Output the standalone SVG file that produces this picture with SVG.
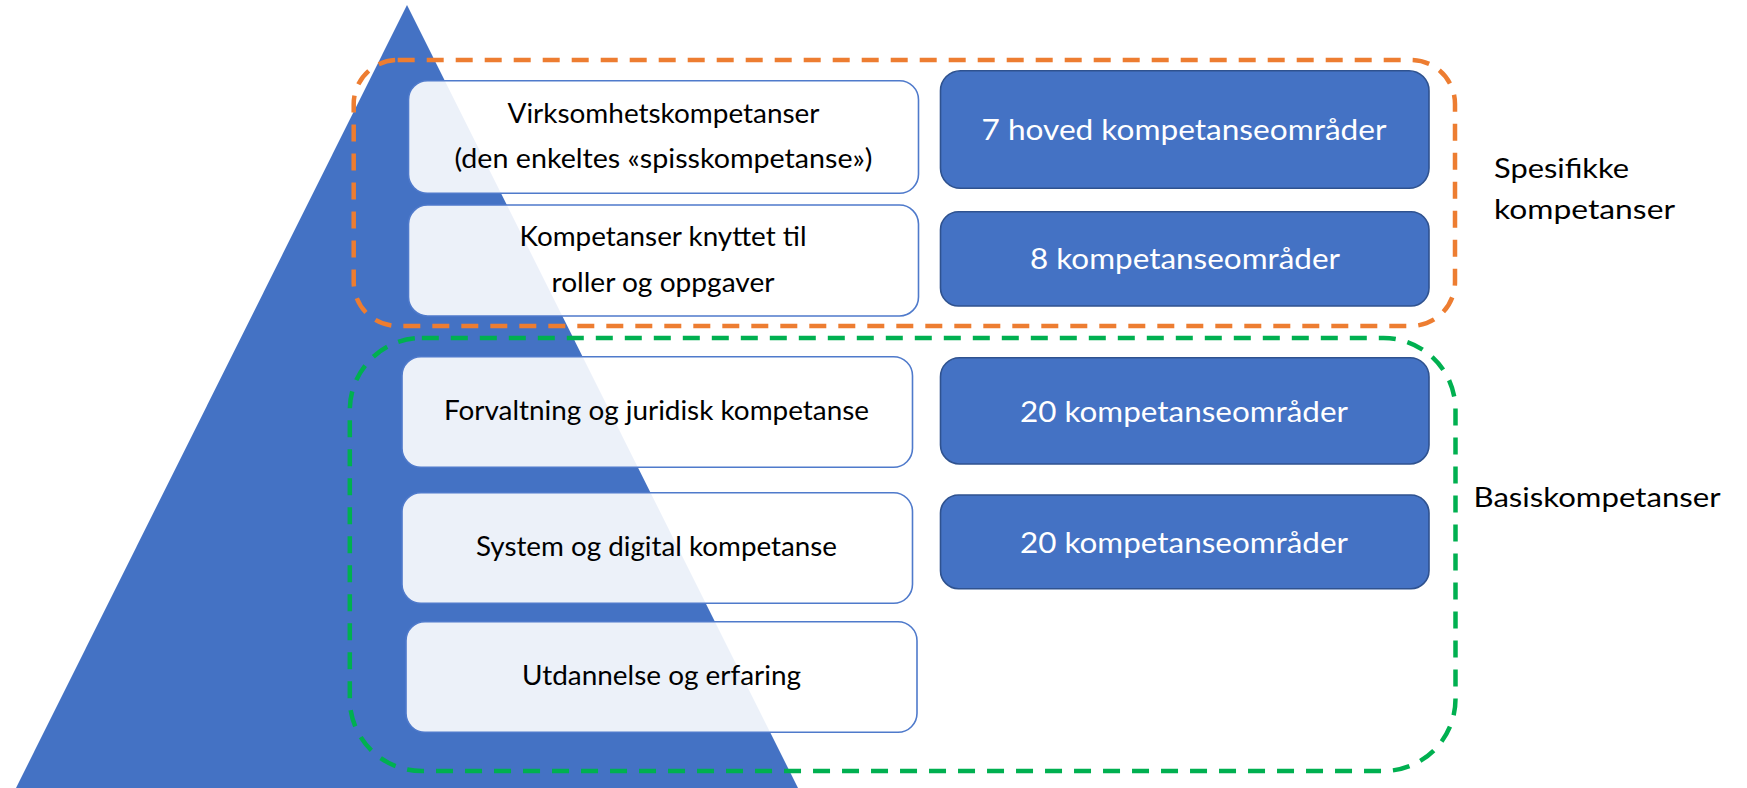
<svg xmlns="http://www.w3.org/2000/svg" width="1747" height="788" viewBox="0 0 1747 788">
<style>
.bg{fill:#ffffff}
.tri{fill:#4472C4}
.wbox{fill:#ffffff;fill-opacity:0.9;stroke:#4F7ACB;stroke-width:1.6}
.dbox{fill:#4472C4;stroke:#2F528F;stroke-width:1.6}
.wt{font-family:Lato,"Liberation Sans",sans-serif;font-size:27px;fill:#000000;text-anchor:middle}
.dt{font-family:Lato,"Liberation Sans",sans-serif;font-size:29px;fill:#ffffff;text-anchor:middle}
.lt{font-family:Lato,"Liberation Sans",sans-serif;font-size:27px;fill:#000000}
.org{fill:none;stroke:#ED7D31;stroke-width:4.5;stroke-dasharray:17 12}
.grn{fill:none;stroke:#00B050;stroke-width:4.5;stroke-dasharray:17 12}
</style>
<rect class="bg" x="0" y="0" width="1747" height="788"/>
<g id="pyramid">
<polygon class="tri" points="407,5 798,788 16,788"/>
</g>
<g id="box-virksomhet">
<rect class="wbox" x="408.5" y="80.7" width="510" height="112.6" rx="19"/>
<text class="wt" x="663.5" y="122.7" textLength="312" lengthAdjust="spacingAndGlyphs">Virksomhetskompetanser</text>
<text class="wt" x="663.5" y="168" textLength="418" lengthAdjust="spacingAndGlyphs">(den enkeltes «spisskompetanse»)</text>
</g>
<g id="box-roller">
<rect class="wbox" x="408.5" y="205" width="510" height="111" rx="19"/>
<text class="wt" x="663" y="246" textLength="287" lengthAdjust="spacingAndGlyphs">Kompetanser knyttet til</text>
<text class="wt" x="663" y="291.7" textLength="223" lengthAdjust="spacingAndGlyphs">roller og oppgaver</text>
</g>
<g id="box-forvaltning">
<rect class="wbox" x="402" y="356.7" width="510.5" height="110.6" rx="19"/>
<text class="wt" x="656.5" y="420" textLength="425" lengthAdjust="spacingAndGlyphs">Forvaltning og juridisk kompetanse</text>
</g>
<g id="box-system">
<rect class="wbox" x="402" y="492.7" width="510.5" height="110.6" rx="19"/>
<text class="wt" x="656.5" y="556" textLength="361" lengthAdjust="spacingAndGlyphs">System og digital kompetanse</text>
</g>
<g id="box-utdannelse">
<rect class="wbox" x="406" y="621.7" width="511" height="110.6" rx="19"/>
<text class="wt" x="661.5" y="685" textLength="279" lengthAdjust="spacingAndGlyphs">Utdannelse og erfaring</text>
</g>
<g id="count-7">
<rect class="dbox" x="940.5" y="70.7" width="488.5" height="117.6" rx="20"/>
<text class="dt" x="1184" y="140" textLength="405" lengthAdjust="spacingAndGlyphs">7 hoved kompetanseområder</text>
</g>
<g id="count-8">
<rect class="dbox" x="940.5" y="211.7" width="488.5" height="94.3" rx="18"/>
<text class="dt" x="1185" y="269" textLength="310" lengthAdjust="spacingAndGlyphs">8 kompetanseområder</text>
</g>
<g id="count-20a">
<rect class="dbox" x="940.5" y="357.7" width="488.5" height="106.3" rx="19"/>
<text class="dt" x="1184" y="421.7" textLength="328" lengthAdjust="spacingAndGlyphs">20 kompetanseområder</text>
</g>
<g id="count-20b">
<rect class="dbox" x="940.5" y="495" width="488.5" height="93.7" rx="18"/>
<text class="dt" x="1184" y="553.3" textLength="328" lengthAdjust="spacingAndGlyphs">20 kompetanseområder</text>
</g>
<g id="group-spesifikke">
<rect class="org" x="353.7" y="60" width="1101.3" height="266" rx="44"/>
<text class="lt" x="1494" y="178.3" textLength="135" lengthAdjust="spacingAndGlyphs">Spesifikke</text>
<text class="lt" x="1494" y="219.3" textLength="181" lengthAdjust="spacingAndGlyphs">kompetanser</text>
</g>
<g id="group-basis">
<rect class="grn" x="349.8" y="338" width="1105.7" height="433" rx="72"/>
<text class="lt" x="1473.5" y="506.7" textLength="247" lengthAdjust="spacingAndGlyphs">Basiskompetanser</text>
</g>
</svg>
